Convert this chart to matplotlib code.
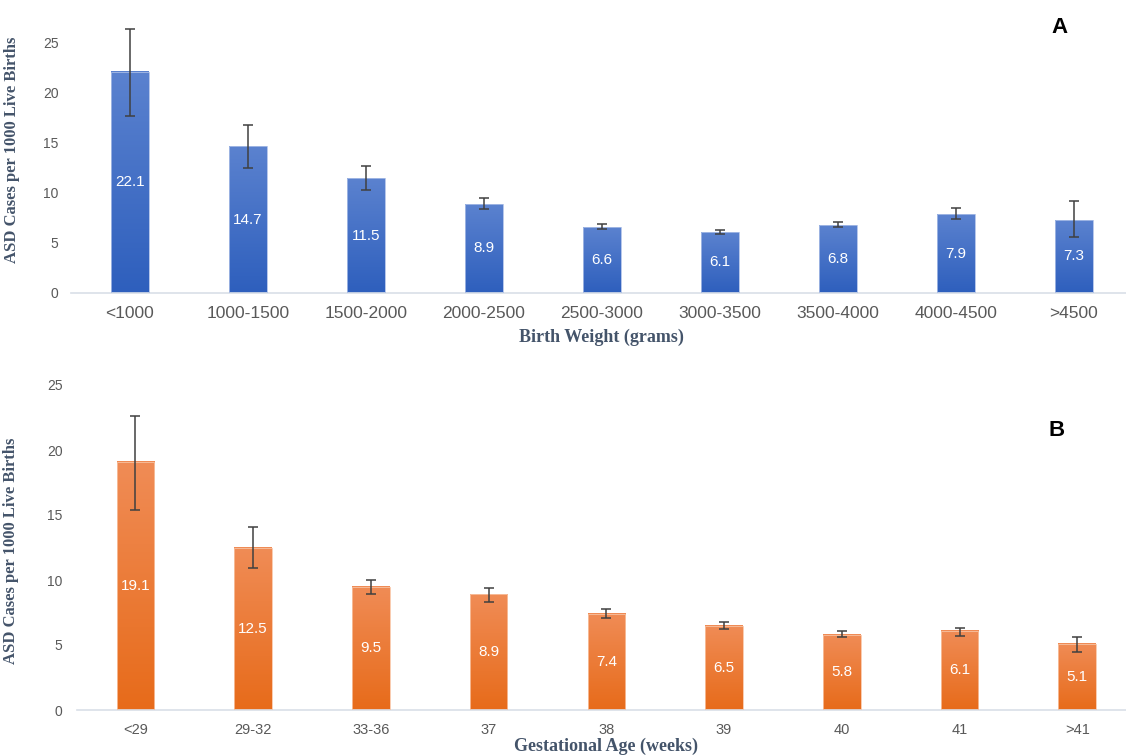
import numpy as np
import matplotlib
matplotlib.use("Agg")
import matplotlib.pyplot as plt
from matplotlib.colors import LinearSegmentedColormap

# data
bw_labels = ['<1000', '1000-1500', '1500-2000', '2000-2500', '2500-3000',
             '3000-3500', '3500-4000', '4000-4500', '>4500']
bw_rate   = [22.1, 14.7, 11.5, 8.9, 6.6, 6.1, 6.8, 7.9, 7.3]
bw_lo     = [17.7, 12.5, 10.3, 8.4, 6.4, 5.9, 6.6, 7.4, 5.6]
bw_hi     = [26.4, 16.8, 12.7, 9.5, 6.9, 6.3, 7.1, 8.5, 9.2]

ga_labels = ['<29', '29-32', '33-36', '37', '38', '39', '40', '41', '>41']
ga_rate   = [19.1, 12.5, 9.5, 8.9, 7.4, 6.5, 5.8, 6.1, 5.1]
ga_lo     = [15.4, 10.9, 8.9, 8.3, 7.1, 6.2, 5.6, 5.7, 4.5]
ga_hi     = [22.6, 14.1, 10.0, 9.4, 7.8, 6.8, 6.1, 6.3, 5.6]

TICK_COL  = '#595959'
LABEL_COL = '#44546a'
SERIF     = 'Liberation Serif'
SANS      = 'Liberation Sans'


def gradient_bars(ax, values, top_col, bot_col, edge_col):
    cmap = LinearSegmentedColormap.from_list('g', [bot_col, top_col])
    x = np.arange(len(values))
    bars = ax.bar(x, values, width=0.32, color='none', edgecolor=edge_col,
                  linewidth=0.6, zorder=3)
    grad = np.linspace(0, 1, 256).reshape(-1, 1)
    for b in bars:
        x0, y0 = b.get_x(), b.get_y()
        ax.imshow(grad, extent=[x0, x0 + b.get_width(), y0, y0 + b.get_height()],
                  origin='lower', aspect='auto', cmap=cmap, zorder=2,
                  interpolation='bilinear')
    return x


def panel(ax, labels, rate, lo, hi, top_col, bot_col, edge_col,
          xlabel, letter, letter_xy, ylim, xfs, ypad, ylab_xy, xlab_pad):
    x = gradient_bars(ax, rate, top_col, bot_col, edge_col)
    yerr = [np.array(rate) - np.array(lo), np.array(hi) - np.array(rate)]
    ax.errorbar(x, rate, yerr=yerr, fmt='none', ecolor='#404040',
                elinewidth=1.1, capsize=3.5, capthick=1.1, zorder=4)
    for xi, v in zip(x, rate):
        ax.text(xi, v / 2, f'{v}', color='white', ha='center', va='center',
                fontsize=11, family=SANS, zorder=5)
    ax.set_xlim(-0.5, len(labels) - 0.5)
    ax.set_ylim(*ylim)
    ax.set_yticks([0, 5, 10, 15, 20, 25])
    ax.set_xticks(x)
    ax.set_xticklabels(labels, fontsize=xfs, color=TICK_COL, family=SANS)
    ax.tick_params(axis='y', labelsize=10, colors=TICK_COL, length=0, pad=ypad)
    ax.tick_params(axis='x', length=0, pad=9)
    for lbl in ax.get_yticklabels():
        lbl.set_family(SANS)
    for s in ['top', 'right', 'left']:
        ax.spines[s].set_visible(False)
    ax.spines['bottom'].set_color('#d9dfe8')
    ax.spines['bottom'].set_linewidth(1.2)
    ax.set_xlabel(xlabel, fontsize=13, fontweight='bold', family=SERIF,
                  color=LABEL_COL, labelpad=xlab_pad)
    ax.set_ylabel('ASD Cases per 1000 Live Births', fontsize=12,
                  fontweight='bold', family=SERIF, color=LABEL_COL)
    ax.yaxis.set_label_coords(*ylab_xy)
    ax.text(letter_xy[0], letter_xy[1], letter, transform=ax.transAxes,
            fontsize=16, fontweight='bold', family=SANS,
            ha='center', va='center')


fig = plt.figure(figsize=(11.26, 7.56), dpi=100)

# ── Panel A: birth weight ───────────────────────────────────────
ax1 = fig.add_axes([0.063, 1 - 293 / 756, 0.943, 275 / 756])
panel(ax1, bw_labels, bw_rate, bw_lo, bw_hi,
      '#5b82cf', '#2e5fbd', '#a9bde6',
      'Birth Weight (grams)', 'A', (0.931, 0.964), (0, 27.5), 12.5,
      9, (-0.048, 0.52), 6)

# ── Panel B: gestational age ────────────────────────────────────
ax2 = fig.add_axes([0.068, 1 - 710 / 756, 0.941, 338 / 756])
panel(ax2, ga_labels, ga_rate, ga_lo, ga_hi,
      '#f08c56', '#e76b1a', '#f8c3a2',
      'Gestational Age (weeks)', 'B', (0.925, 0.828), (0, 26), 10.5,
      10, (-0.054, 0.47), 1)

fig.savefig('out.png', dpi=100)
